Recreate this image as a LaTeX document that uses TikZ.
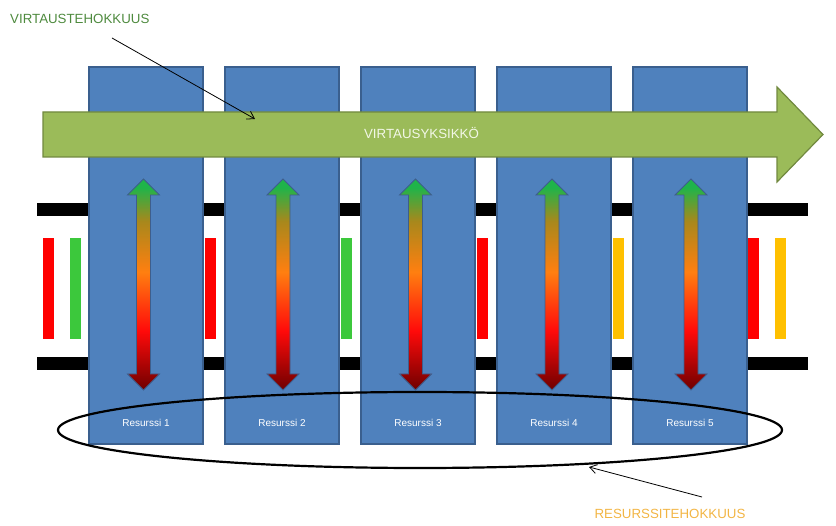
\documentclass[tikz,border=0pt]{standalone}
\usepackage{fontspec}
\setmainfont{Liberation Sans}
\usetikzlibrary{arrows.meta}
\definecolor{resblue}{HTML}{4F81BD}
\definecolor{resborder}{HTML}{3A5F8E}
\definecolor{flowgreen}{HTML}{9BBB59}
\definecolor{flowborder}{HTML}{71893F}
\definecolor{barred}{HTML}{FF0000}
\definecolor{bargreen}{HTML}{3CC83C}
\definecolor{baryellow}{HTML}{FFC000}
\definecolor{flowtext}{HTML}{4E8A3E}
\definecolor{restext}{HTML}{F2B544}
\definecolor{arrowtext}{HTML}{F2F7E6}
\definecolor{gdark}{HTML}{6E0000}
\definecolor{gred}{HTML}{FF0A0A}
\definecolor{gorange}{HTML}{FF7F10}
\definecolor{golive}{HTML}{A8881C}
\definecolor{ggreen}{HTML}{1FB44A}
\definecolor{gborder}{HTML}{3E5E8C}
\pgfdeclareverticalshading{gradarrow}{100bp}{color(0bp)=(gdark); color(25bp)=(gdark); color(39bp)=(gred); color(53bp)=(gorange); color(65bp)=(golive); color(73bp)=(ggreen); color(100bp)=(ggreen)}
\tikzset{
  resbox/.style={draw=resborder, line width=1.2pt, fill=resblue, minimum width=114pt, minimum height=377pt, inner sep=0pt},
  reslabel/.style={text=white, font=\fontsize{10}{12}\selectfont, anchor=base, inner sep=0pt},
  biglabel/.style={font=\fontsize{13.3}{15}\selectfont, inner sep=0pt},
  annot/.style={draw=black, line width=0.8pt, -{Straight Barb[length=7pt, width=9pt]}},
  railbar/.style={fill=black},
  gradshape/.style={shading=gradarrow, draw=gborder, line width=0.8pt}
}
\newcommand{\gradarr}[1]{%
  \shadedraw[gradshape] (#1,179) -- (#1+16,195) -- (#1+7,195) -- (#1+7,374) -- (#1+16,374) -- (#1,390) -- (#1-16,374) -- (#1-7,374) -- (#1-7,195) -- (#1-16,195) -- cycle;}
\begin{document}
\begin{tikzpicture}[x=1pt, y=-1pt]
\useasboundingbox (0,0) rectangle (836,526);
% rails
\fill[railbar] (37,203) rectangle (808,216);
\fill[railbar] (37,357) rectangle (808,370);
% colored bars
\fill[barred] (43,238) rectangle (54,339);
\fill[bargreen] (70,238) rectangle (81,339);
\fill[barred] (205,238) rectangle (216,339);
\fill[bargreen] (341,238) rectangle (352,339);
\fill[barred] (477,238) rectangle (488,339);
\fill[baryellow] (613,238) rectangle (624,339);
\fill[barred] (748,238) rectangle (759,339);
\fill[baryellow] (775,238) rectangle (786,339);
% resources
\node[resbox] (r1) at (146,255.5) {};
\node[resbox] (r2) at (282,255.5) {};
\node[resbox] (r3) at (418,255.5) {};
\node[resbox] (r4) at (554,255.5) {};
\node[resbox] (r5) at (690,255.5) {};
\node[reslabel] (l1) at (146,427) {Resurssi 1};
\node[reslabel] (l2) at (282,427) {Resurssi 2};
\node[reslabel] (l3) at (418,427) {Resurssi 3};
\node[reslabel] (l4) at (554,427) {Resurssi 4};
\node[reslabel] (l5) at (690,427) {Resurssi 5};
% gradient arrows
\gradarr{143.5}
\gradarr{283}
\gradarr{415.5}
\gradarr{552}
\gradarr{691}
% flow arrow
\filldraw[fill=flowgreen, draw=flowborder, line width=1.2pt] (43,112) -- (777,112) -- (777,87) -- (823,134.5) -- (777,182) -- (777,157) -- (43,157) -- cycle;
\node[biglabel, text=arrowtext, anchor=base] (unit) at (421.5,138.5) {VIRTAUSYKSIKKÖ};
% ellipse
\coordinate (ellc) at (420,430);
\draw[line width=2.2pt] (ellc) ellipse [x radius=362, y radius=38];
% annotations
\node[biglabel, text=flowtext, anchor=base west] (flowlbl) at (10,24) {VIRTAUSTEHOKKUUS};
\node[biglabel, text=restext, anchor=base] (reslbl) at (670,519) {RESURSSITEHOKKUUS};
\coordinate (flowtail) at (112,38);
\coordinate (flowtip) at (255,119);
\coordinate (restail) at (702,497);
\coordinate (restip) at (589,467);
\draw[annot] (flowtail) -- (flowtip);
\draw[annot] (restail) -- (restip);
\end{tikzpicture}
\end{document}
